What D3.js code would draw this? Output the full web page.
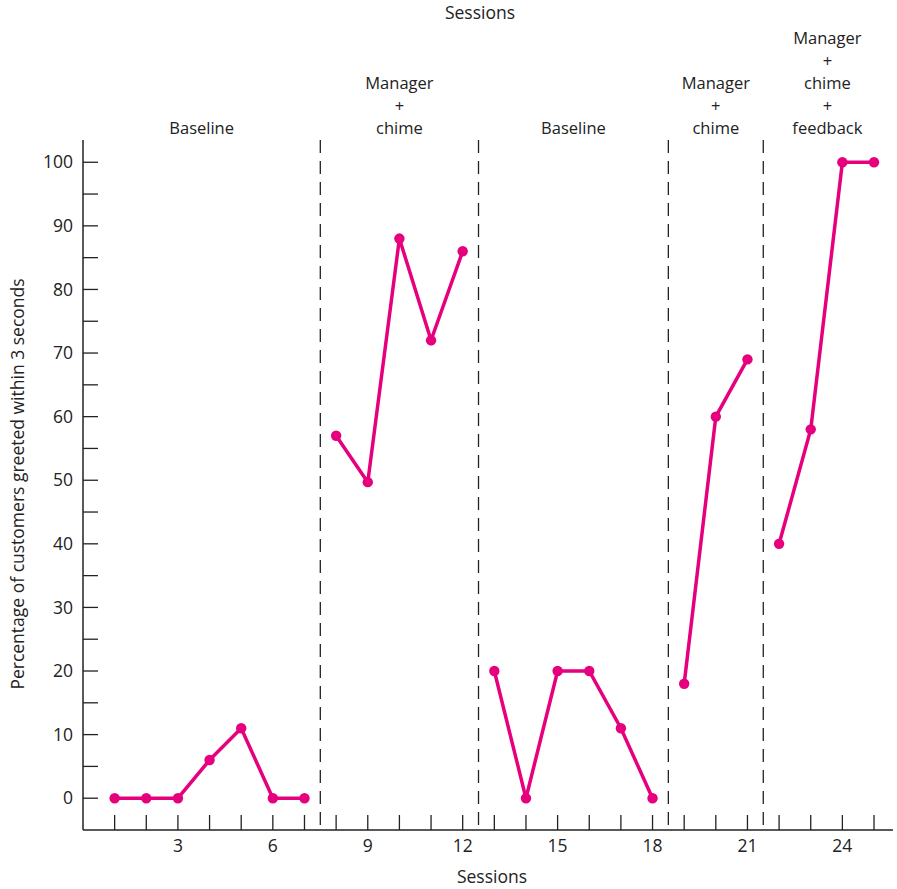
<!DOCTYPE html>
<html><head><meta charset="utf-8">
<script src="https://cdn.jsdelivr.net/npm/d3@7"></script>
<style>body{margin:0;background:#fff;} text{font-family:"Open Sans",sans-serif;fill:#222;}</style>
</head><body><svg id="c" width="897" height="889"></svg>
<script>
const phases = [
  {label:["Baseline"], sessions:[1,2,3,4,5,6,7], values:[0,0,0,6,11,0,0]},
  {label:["Manager","+","chime"], sessions:[8,9,10,11,12], values:[57,49.7,88,72,86]},
  {label:["Baseline"], sessions:[13,14,15,16,17,18], values:[20,0,20,20,11,0]},
  {label:["Manager","+","chime"], sessions:[19,20,21], values:[18,60,69]},
  {label:["Manager","+","chime","+","feedback"], sessions:[22,23,24,25], values:[40,58,100,100]}
];
const phaseBreaks = [7.5, 12.5, 18.5, 21.5];
const xTickLabels = [3,6,9,12,15,18,21,24];
const yTickLabels = [0,10,20,30,40,50,60,70,80,90,100];

const svg = d3.select("#c");
const x = d3.scaleLinear().domain([0, 25.6]).range([83, 893]);
const y = d3.scaleLinear().domain([-5, 103.5]).range([830, 140]);
const color = "#e6007e";
const fs = 17.5;

svg.append("line").attr("x1",x(0)).attr("x2",x(0)).attr("y1",y(103.5)).attr("y2",y(-5)).attr("stroke","#222").attr("stroke-width",1.5);
svg.append("line").attr("x1",x(0)).attr("x2",x(25.6)).attr("y1",y(-5)).attr("y2",y(-5)).attr("stroke","#222").attr("stroke-width",1.5);

const yMinor = d3.range(0, 101, 5);
svg.selectAll(".yt").data(yMinor).enter().append("line")
  .attr("x1",x(0)).attr("x2",x(0)+15).attr("y1",d=>y(d)).attr("y2",d=>y(d))
  .attr("stroke","#222").attr("stroke-width",1.3);
svg.selectAll(".yl").data(yTickLabels).enter().append("text")
  .attr("x",x(0)-10).attr("y",d=>y(d)).attr("dy","0.35em").attr("text-anchor","end")
  .attr("font-size",fs).text(d=>d);

svg.selectAll(".xt").data(d3.range(1,26)).enter().append("line")
  .attr("x1",d=>x(d)).attr("x2",d=>x(d)).attr("y1",y(-5)).attr("y2",y(-5)-15)
  .attr("stroke","#222").attr("stroke-width",1.3);
svg.selectAll(".xl").data(xTickLabels).enter().append("text")
  .attr("x",d=>x(d)).attr("y",y(-5)+22).attr("text-anchor","middle")
  .attr("font-size",fs).text(d=>d);

svg.selectAll(".pb").data(phaseBreaks).enter().append("line")
  .attr("x1",d=>x(d)).attr("x2",d=>x(d)).attr("y1",y(103.5)).attr("y2",y(-5))
  .attr("stroke","#222").attr("stroke-width",1.3).attr("stroke-dasharray","13,8");

const bounds = [0, ...phaseBreaks, 25.6];
phases.forEach((p,i)=>{
  const cx = i===4 ? x(24) - 15 : (x(bounds[i]) + x(bounds[i+1]))/2;
  const n = p.label.length;
  p.label.forEach((t,j)=>{
    svg.append("text").attr("x", cx).attr("y", 134 - (n-1-j)*22.5)
      .attr("text-anchor","middle").attr("font-size",16.5).text(t);
  });
});

const line = d3.line().x(d=>x(d[0])).y(d=>y(d[1]));
phases.forEach(p=>{
  const pts = p.sessions.map((s,i)=>[s,p.values[i]]);
  svg.append("path").attr("d", line(pts)).attr("fill","none").attr("stroke",color).attr("stroke-width",3.5);
  svg.selectAll(null).data(pts).enter().append("circle")
    .attr("cx",d=>x(d[0])).attr("cy",d=>y(d[1])).attr("r",5.2).attr("fill",color);
});

svg.append("text").attr("x",480).attr("y",19).attr("text-anchor","middle").attr("font-size",fs).text("Sessions");
svg.append("text").attr("x",492).attr("y",883).attr("text-anchor","middle").attr("font-size",fs).text("Sessions");
svg.append("text").attr("transform","translate(24,484) rotate(-90)").attr("text-anchor","middle").attr("font-size",fs).text("Percentage of customers greeted within 3 seconds");
</script></body></html>
